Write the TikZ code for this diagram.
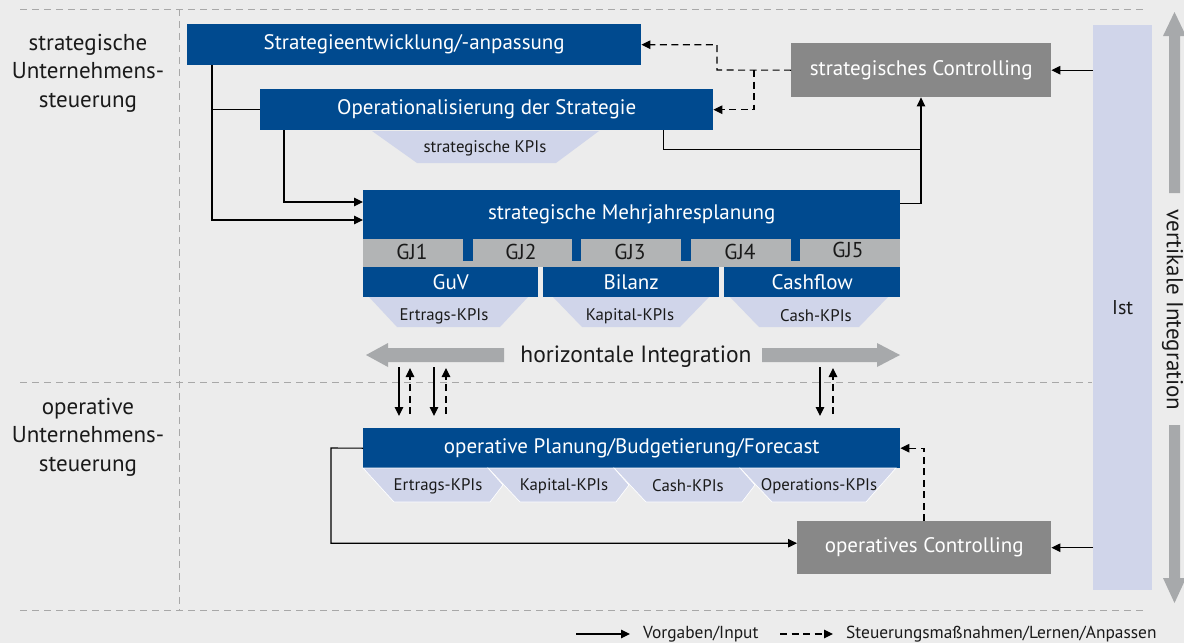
\documentclass[tikz,border=0pt]{standalone}
\usepackage{fontspec}
\setmainfont{PT Sans}
\usetikzlibrary{arrows.meta,calc}
\definecolor{bgc}{HTML}{ECECEC}
\definecolor{bluec}{HTML}{004A8F}
\definecolor{grayc}{HTML}{888888}
\definecolor{gjc}{HTML}{B2B4B5}
\definecolor{lavc}{HTML}{D0D5EA}
\definecolor{arrc}{HTML}{A7A9AB}
\definecolor{sepc}{HTML}{A8A8A8}
\definecolor{txtc}{HTML}{1A1A1A}
\begin{document}
\begin{tikzpicture}[x=1pt,y=-1pt,
  bluebox/.style={fill=bluec,text=white,inner sep=0pt,anchor=north west,font=\fontsize{21}{24}\selectfont},
  graybox/.style={fill=grayc,text=white,inner sep=0pt,anchor=north west,font=\fontsize{21}{24}\selectfont},
  kpi/.style={text=txtc,inner sep=0pt,font=\fontsize{16.8}{19}\selectfont},
  gjlab/.style={text=txtc,inner sep=0pt,font=\fontsize{21.5}{24}\selectfont},
  kpifill/.style={fill=lavc},
  kpishape/.style={fill=lavc,draw=white,line width=0.7pt},
  arr/.style={-{Triangle[length=9pt,width=8.5pt]},line width=1.1pt,black},
  darr/.style={arr,dash pattern=on 7pt off 4.5pt},
  sep/.style={draw=sepc,line width=0.9pt,dash pattern=on 7pt off 5pt},
  bigarrow/.style={fill=arrc},
  lab/.style={text=txtc,align=center,inner sep=0pt,font=\fontsize{23}{28.7}\selectfont},
  legtxt/.style={text=txtc,inner sep=0pt,anchor=west,font=\fontsize{17.4}{20}\selectfont},
]
\fill[bgc] (0,0) rectangle (1184,643);
\useasboundingbox (0,0) rectangle (1184,643);

% separators
\draw[sep] (20,9) -- (1147,9);
\draw[sep] (20,382) -- (1092,382);
\draw[sep] (20,610) -- (1147,610);
\draw[sep] (179,9) -- (179,610);

% left labels
\node[lab] (ls) at (88,73) {strategische\\Unternehmens-\\steuerung};
\node[lab] (lo) at (88,437) {operative\\Unternehmens-\\steuerung};

% Ist column
\node[fill=lavc,text=txtc,minimum width=59pt,minimum height=565pt,anchor=north west,inner sep=0pt,font=\fontsize{20}{22}\selectfont] (ist) at (1093,25) {Ist};

% vertical integration
\fill[bigarrow] (1169,193) -- (1169,36) -- (1163,36) -- (1174.5,12) -- (1186,36) -- (1180,36) -- (1180,193) -- cycle;
\fill[bigarrow] (1169,425) -- (1169,578) -- (1163,578) -- (1174.5,603) -- (1186,578) -- (1180,578) -- (1180,425) -- cycle;
\node[rotate=-90,text=txtc,inner sep=0pt,font=\fontsize{23}{26}\selectfont] (vi) at (1172.5,310) {vertikale Integration};

% strategic boxes
\node[bluebox,minimum width=454pt,minimum height=41pt] (se) at (187,24) {Strategieentwicklung/-anpassung};
\node[bluebox,minimum width=453pt,minimum height=41pt] (os) at (260,89) {Operationalisierung der Strategie};
\fill[kpifill] (372,131) -- (599,131) -- (556,163) -- (417,163) -- cycle;
\node[kpi] (skpi) at (485,148) {strategische KPIs};
\node[graybox,minimum width=260pt,minimum height=54pt] (sc) at (791,43) {strategisches Controlling};

% Mehrjahresplanung
\node[bluebox,minimum width=537pt,minimum height=49pt] (mj) at (363,190) {strategische Mehrjahresplanung};
\fill[gjc] (363,239) rectangle (900,267);
\fill[bluec] (462.5,238) rectangle (472.5,261);
\fill[bluec] (572,238) rectangle (581,261);
\fill[bluec] (681,238) rectangle (691,261);
\fill[bluec] (791,238) rectangle (800,261);
\node[gjlab] (gj1) at (412,251.5) {GJ1};
\node[gjlab] (gj2) at (521,251.5) {GJ2};
\node[gjlab] (gj3) at (630,251.5) {GJ3};
\node[gjlab] (gj4) at (740,251.5) {GJ4};
\node[gjlab] (gj5) at (848,250) {GJ5};
\node[bluebox,minimum width=175pt,minimum height=30pt] (guv) at (363,267) {GuV};
\node[bluebox,minimum width=176pt,minimum height=30pt] (bil) at (543,267) {Bilanz};
\node[bluebox,minimum width=176pt,minimum height=30pt] (cf) at (724,267) {Cashflow};
\fill[kpifill] (369,297) -- (528,297) -- (500,327) -- (397,327) -- cycle;
\fill[kpifill] (553,297) -- (709,297) -- (680,327) -- (582,327) -- cycle;
\fill[kpifill] (730,297) -- (888,297) -- (859,327) -- (759,327) -- cycle;
\node[kpi] (k1) at (444,316) {Ertrags-KPIs};
\node[kpi] (k2) at (630,316) {Kapital-KPIs};
\node[kpi] (k3) at (816,316) {Cash-KPIs};

% horizontal integration
\fill[bigarrow] (504,348) -- (388,348) -- (388,343) -- (366,355) -- (388,367) -- (388,362) -- (504,362) -- cycle;
\fill[bigarrow] (762,348) -- (877,348) -- (877,343) -- (900,355) -- (877,367) -- (877,362) -- (762,362) -- cycle;
\node[text=txtc,inner sep=0pt,font=\fontsize{23.5}{26}\selectfont] (hi) at (636,357) {horizontale Integration};

% operative
\node[bluebox,minimum width=537pt,minimum height=40pt] (op) at (363,428) {operative Planung/Budgetierung/Forecast};
\draw[kpishape] (740,468) -- (896,468) -- (866,502) -- (772,502) -- cycle;
\draw[kpishape] (614,468) -- (740,468) -- (755,485) -- (742,502) -- (646,502) -- cycle;
\draw[kpishape] (488,468) -- (614,468) -- (629,485) -- (616,502) -- (520,502) -- cycle;
\draw[kpishape] (363,468) -- (488,468) -- (503,485) -- (490,502) -- (394,502) -- cycle;
\node[kpi] (o1) at (438,486) {Ertrags-KPIs};
\node[kpi] (o2) at (564,486) {Kapital-KPIs};
\node[kpi] (o3) at (688,486) {Cash-KPIs};
\node[kpi] (o4) at (819,486) {Operations-KPIs};
\node[graybox,minimum width=254pt,minimum height=53pt] (oc) at (797,521) {operatives Controlling};

% connectors strategic
\draw[line width=1.1pt] ([xshift=25pt]se.south west) |- (os.west);
\draw[arr] ([xshift=25pt]se.south west) |- ([yshift=-30pt]mj.north west);
\draw[arr] ([xshift=24pt]os.south west) |- ([yshift=-12pt]mj.north west);
\draw[line width=1.1pt] ([xshift=-50pt]os.south east) |- (921,149.5);
\draw[arr] ([yshift=11pt]mj.east) -| (sc.south -| 921,0);
\draw[darr] (sc.west) -- (717,70) |- (se.east);
\draw[darr] (754,70) |- (os.east);
\draw[arr] (ist.west |- sc.east) -- (sc.east);
\draw[arr] (ist.west |- oc.east) -- (oc.east);

% vertical small arrows
\draw[arr] ([shift={(36pt,61pt)}]op.north west) -- ([shift={(36pt,12pt)}]op.north west);
\draw[darr] ([shift={(47pt,14pt)}]op.north west) -- ([shift={(47pt,60pt)}]op.north west);
\draw[arr] ([shift={(71pt,61pt)}]op.north west) -- ([shift={(71pt,12pt)}]op.north west);
\draw[darr] ([shift={(83pt,14pt)}]op.north west) -- ([shift={(83pt,60pt)}]op.north west);
\draw[arr] ([shift={(457pt,61pt)}]op.north west) -- ([shift={(457pt,12pt)}]op.north west);
\draw[darr] ([shift={(470pt,14pt)}]op.north west) -- ([shift={(470pt,60pt)}]op.north west);

% operative connectors
\draw[arr] (op.west) -- (331,448) |- ([yshift=4.5pt]oc.west);
\draw[darr] (oc.north -| 924,0) |- (op.east);

% legend
\coordinate (l1a) at (576,634);
\coordinate (l1b) at (630,634);
\coordinate (l2a) at (780,634);
\coordinate (l2b) at (833,634);
\draw[arr] (l1a) -- (l1b);
\node[legtxt] (lt1) at (643,634) {Vorgaben/Input};
\draw[darr] (l2a) -- (l2b);
\node[legtxt] (lt2) at (846,634) {Steuerungsmaßnahmen/Lernen/Anpassen};
\end{tikzpicture}
\end{document}
